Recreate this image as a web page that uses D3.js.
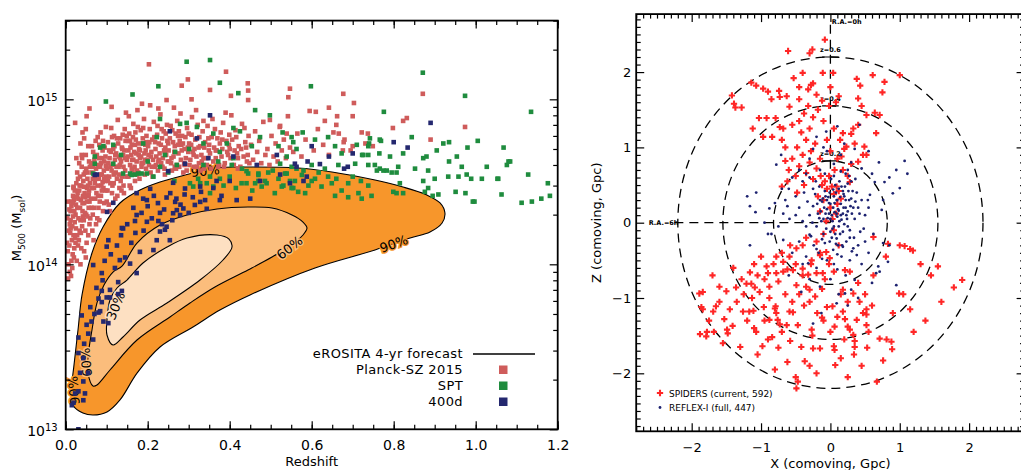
<!DOCTYPE html>
<html><head><meta charset="utf-8">
<script src="https://cdn.jsdelivr.net/npm/d3@7"></script>
<style>
body{margin:0;background:#fff;}
svg{display:block;font-family:"DejaVu Sans",sans-serif;}
</style></head><body>
<svg id="fig" width="1021" height="470"></svg>
<script>
// ---------- left panel: redshift, M500 in units of 1e14 Msol (flat z,M pairs)
var planck = [
0.005,1.2,0.008,1.6,0.010,0.9,0.012,2.1,0.004,1.9,0.015,1.4,0.018,2.6,0.020,1.1,0.022,1.8,0.025,2.3,0.028,1.5,0.006,2.4,0.009,1.3,0.013,0.85,0.016,1.7,0.019,2.9,0.021,1.25,0.024,2.0,0.027,1.05,0.029,2.7,
0.007,1.0,0.011,1.55,0.014,2.25,0.017,1.15,0.023,1.45,0.026,3.1,0.003,1.35,0.012,1.85,0.020,2.45,0.016,0.95,0.009,2.15,0.025,1.65,0.018,1.95,0.030,1.3,0.006,0.82,0.022,2.8,0.014,1.05,0.028,2.2,0.010,1.75,0.019,1.5,
0.013,2.4,0.019,2.95,0.023,7.2,0.039,4.6,0.055,5.2,0.058,8.8,0.051,7.9,0.028,3.6,0.033,4.1,0.045,5.8,0.026,4.4,0.041,6.3,0.036,5.4,0.049,6.6,0.030,3.3,
0.032,1.4,0.035,2.2,0.038,3.0,0.040,1.7,0.042,2.6,0.045,1.2,0.047,3.6,0.050,2.0,0.052,2.9,0.055,1.5,0.057,4.2,0.058,2.4,0.033,2.8,0.036,1.0,0.039,3.9,0.041,2.1,0.044,1.85,0.046,2.7,0.049,4.6,0.051,1.35,
0.053,3.3,0.056,2.2,0.059,3.1,0.034,1.6,0.037,2.45,0.043,3.2,0.048,1.6,0.054,2.6,0.060,1.9,0.031,2.5,0.035,3.4,0.040,4.4,0.045,2.35,0.050,3.8,0.055,3.0,0.058,1.75,0.038,1.25,0.042,1.95,0.047,2.05,0.052,2.4,0.057,2.8,0.044,2.95,0.036,1.85,0.049,1.1,0.053,1.95,
0.061,2.5,0.063,3.6,0.065,1.6,0.067,4.8,0.069,2.2,0.071,3.1,0.073,5.6,0.075,2.7,0.077,1.9,0.079,4.0,0.081,3.3,0.083,2.4,0.085,6.3,0.087,3.0,0.089,4.4,0.091,2.1,0.093,3.7,0.095,5.1,0.097,2.8,0.099,3.4,
0.062,4.1,0.064,2.9,0.066,3.3,0.068,1.4,0.070,4.3,0.072,2.5,0.074,3.8,0.076,4.6,0.078,3.0,0.080,2.2,0.082,5.3,0.084,3.9,0.086,2.6,0.088,3.5,0.090,4.9,0.092,2.9,0.094,4.2,0.096,3.2,0.098,6.8,0.100,2.4,
0.066,2.0,0.074,1.75,0.082,1.85,0.090,3.15,0.070,3.5,0.078,5.9,0.086,4.1,0.094,2.35,0.098,3.95,0.064,5.2,
0.101,3.8,0.103,5.5,0.105,2.3,0.107,4.4,0.109,3.1,0.111,6.7,0.113,2.7,0.115,4.0,0.117,3.5,0.119,5.2,0.121,2.5,0.123,4.7,0.125,3.3,0.127,7.5,0.129,3.9,0.131,2.9,0.133,5.8,0.135,4.2,0.137,3.4,0.139,6.1,
0.141,3.0,0.143,4.9,0.145,3.7,0.147,8.3,0.149,4.3,0.102,2.8,0.106,3.4,0.110,4.8,0.114,3.0,0.118,6.0,0.122,3.6,0.126,2.6,0.130,4.5,0.134,3.2,0.138,5.0,0.142,2.7,0.146,5.6,0.104,4.1,0.108,2.1,0.112,3.7,
0.116,5.0,0.120,4.3,0.124,3.9,0.128,5.4,0.132,4.0,0.136,2.8,0.140,4.6,0.144,6.6,0.148,3.4,0.112,9.0,
0.151,4.5,0.153,3.4,0.155,6.2,0.157,4.0,0.159,2.9,0.161,5.3,0.163,3.7,0.165,7.1,0.167,4.8,0.169,3.2,0.171,5.7,0.173,4.2,0.175,8.6,0.177,3.6,0.179,5.0,0.181,4.4,0.183,6.5,0.185,3.9,0.187,5.4,0.189,4.1,
0.191,7.6,0.193,3.5,0.195,4.9,0.197,6.0,0.199,4.3,0.152,5.6,0.156,3.0,0.160,4.6,0.164,5.9,0.168,3.9,0.172,4.7,0.176,6.8,0.180,3.3,0.184,4.5,0.188,5.8,0.192,4.7,0.196,3.8,0.154,7.9,0.162,4.3,0.170,6.3,
0.178,4.6,0.186,9.4,0.194,5.3,0.158,5.1,0.174,3.7,
0.201,5.2,0.203,4.0,0.205,6.6,0.207,3.6,0.209,4.8,0.211,5.7,0.213,4.3,0.215,7.3,0.217,3.9,0.219,5.0,0.221,4.5,0.223,6.1,0.225,3.7,0.227,5.4,0.229,4.7,0.231,8.1,0.233,4.1,0.235,5.8,0.237,4.4,0.239,6.4,
0.241,3.8,0.243,5.1,0.245,4.6,0.247,7.0,0.249,4.2,0.204,5.5,0.208,4.5,0.212,3.4,0.216,5.9,0.220,4.0,0.224,6.9,0.228,4.3,0.232,5.3,0.236,3.9,0.240,4.9,0.244,6.2,0.248,5.6,0.206,9.2,0.226,8.8,0.242,3.5,
0.251,4.9,0.254,5.8,0.257,4.1,0.260,6.5,0.263,4.5,0.266,5.2,0.269,3.8,0.272,7.4,0.275,4.7,0.278,5.6,0.281,4.3,0.284,6.0,0.287,3.6,0.290,5.0,0.293,4.4,0.296,6.7,0.299,4.8,0.253,4.2,0.256,6.9,0.259,3.7,
0.262,5.5,0.265,4.8,0.268,6.2,0.271,4.0,0.274,5.3,0.277,3.9,0.280,8.2,0.283,4.9,0.286,5.4,0.289,4.1,0.292,5.9,0.295,3.7,0.298,5.1,0.264,8.9,0.276,6.4,
0.301,5.4,0.304,4.3,0.307,6.1,0.310,4.8,0.313,3.9,0.316,5.7,0.319,4.5,0.322,7.0,0.325,4.1,0.328,5.2,0.331,4.6,0.334,6.4,0.337,3.8,0.340,5.5,0.343,4.4,0.346,6.9,0.349,4.9,0.302,4.0,0.308,7.8,0.314,5.0,
0.320,3.9,0.326,5.9,0.332,4.2,0.338,5.1,0.344,4.0,0.348,5.8,0.318,8.6,0.336,7.4,0.306,5.3,0.329,3.7,
0.352,4.7,0.356,5.9,0.360,4.2,0.364,6.6,0.368,4.9,0.372,3.9,0.376,5.4,0.380,4.5,0.384,7.2,0.388,4.1,0.392,5.6,0.396,4.6,0.399,6.1,0.354,3.8,0.358,7.6,0.362,5.1,0.366,4.4,0.370,5.8,0.374,4.0,0.378,6.3,
0.382,5.0,0.386,3.9,0.390,8.3,0.394,4.8,0.398,5.3,
0.402,4.4,0.406,5.7,0.410,4.0,0.414,6.5,0.418,4.7,0.422,5.2,0.426,3.9,0.430,7.1,0.434,4.5,0.438,5.5,0.442,4.2,0.446,6.0,0.404,8.0,0.412,4.9,0.420,3.8,0.428,5.0,0.436,6.7,0.444,4.6,0.416,5.9,0.448,4.1,
0.452,5.3,0.457,4.3,0.462,6.4,0.467,4.8,0.472,5.6,0.477,4.1,0.482,7.3,0.487,4.6,0.492,5.0,0.497,4.0,0.502,6.0,0.507,4.5,0.512,5.4,0.517,4.2,0.522,6.8,0.527,4.9,0.532,5.7,0.537,4.4,0.542,7.9,0.547,5.1,
0.555,4.8,0.565,6.2,0.575,4.5,0.585,5.7,0.595,8.5,0.605,4.9,0.615,6.6,0.628,5.3,0.642,4.6,0.660,7.0,0.678,5.5,0.695,4.9,
0.547,11.6,0.543,10.3,0.677,10.8,0.703,9.5,0.700,7.9,0.610,8.4,0.642,8.9,0.662,7.9,0.632,7.4,0.737,6.2,0.722,6.3,0.653,6.3,0.666,6.2,0.680,5.7,0.700,5.2,0.749,5.2,0.731,5.4,0.676,4.9,0.798,6.7,0.823,7.4,
0.832,7.7,0.871,10.8,0.890,5.7,0.974,6.8,
0.203,16.3,0.391,14.7,0.298,13.2,0.283,12.1,0.352,11.4,0.444,12.5,0.445,11.3,0.403,10.5,0.307,10.0,0.246,9.9,0.445,9.9,0.498,7.5,0.523,6.9,0.539,6.2,
0.012,1.65,0.017,2.35,0.021,2.1,0.024,1.35,0.027,2.55,0.031,1.9,0.034,3.0,0.037,1.55,0.041,2.35,0.044,3.5,0.048,2.55,0.052,3.6,0.056,2.65,0.059,3.9,0.063,2.2,0.066,3.9,0.069,2.9,0.072,4.5,0.075,3.3,0.079,2.6,
0.082,4.4,0.085,3.5,0.088,2.8,0.091,5.6,0.094,3.3,0.097,4.5,0.103,3.2,0.106,4.9,0.109,3.9,0.113,5.9,0.117,3.1,0.121,4.6,0.125,5.8,0.129,3.5,0.133,4.4,0.137,5.1,0.141,3.9,0.145,4.4,0.149,6.0,0.153,4.9,
0.157,5.6,0.161,3.8,0.165,4.3,0.169,5.3,0.173,3.5,0.177,5.4,0.181,4.9,0.185,4.1,0.189,6.7,0.193,4.3,0.197,5.5,0.202,4.6,0.210,3.9,0.218,5.5,0.226,4.2,0.234,6.6,0.242,4.8,0.250,5.4,0.258,4.4,0.266,3.9,
0.274,6.0,0.282,5.3,0.290,4.0,0.300,6.2,0.312,4.6,0.324,5.1,0.336,4.4,0.350,5.3,0.366,4.9,0.382,5.7,0.400,5.0,0.420,4.4,0.440,5.1
];
var spt = [
0.098,9.7,0.163,10.7,0.226,12.0,0.295,16.9,0.352,17.3,0.376,12.6,0.421,10.9,0.071,4.5,0.084,5.1,0.116,5.3,0.157,3.55,0.169,3.5,0.177,3.55,0.198,3.55,0.230,7.6,0.222,5.9,0.189,5.4,0.279,7.1,0.295,7.2,0.320,6.8,
0.267,4.8,0.336,5.4,0.360,6.2,0.393,5.4,0.409,6.7,0.425,6.4,0.454,5.2,0.474,5.9,0.498,8.0,0.519,5.2,0.555,5.5,0.539,4.5,0.563,5.0,0.462,8.6,0.376,4.8,0.301,5.0,0.242,4.6,0.271,4.0,0.336,4.0,0.409,4.4,
0.441,3.67,0.470,3.55,0.523,4.07,0.539,3.55,0.563,3.8,0.311,2.96,0.328,3.1,0.352,3.4,0.376,3.3,0.400,3.4,0.441,3.1,0.470,3.2,0.490,3.1,0.531,3.0,0.547,3.2,0.555,2.9,0.071,4.07,0.092,5.2,0.116,4.07,0.140,3.55,
0.372,4.2,0.405,4.0,0.445,3.55,0.470,3.48,0.494,3.6,0.519,3.3,0.535,3.55,0.559,3.2,0.576,3.48,0.592,3.0,0.608,3.3,0.624,2.96,0.649,3.1,0.673,2.8,0.689,3.1,0.714,2.7,0.738,3.0,0.746,2.6,0.478,2.96,0.462,3.1,
0.429,3.1,0.527,2.96,0.551,2.9,0.567,2.75,0.584,2.7,0.551,3.9,0.600,4.0,0.632,3.8,0.665,4.0,0.706,4.07,0.738,4.0,0.657,2.6,0.689,2.55,0.722,2.5,0.510,2.7,0.486,3.2,0.161,3.48,0.185,3.55,0.214,3.4,0.230,3.9,
0.303,3.1,0.323,3.3,0.344,3.1,0.360,2.96,0.067,3.55,
0.529,6.3,0.551,5.9,0.578,6.3,0.608,5.7,0.640,5.9,0.657,5.2,0.673,4.7,0.723,4.6,0.740,5.4,0.766,5.7,0.811,3.9,0.823,4.7,0.880,4.5,0.905,4.9,0.921,5.4,
0.871,14.5,0.974,10.5,0.776,8.4,1.135,8.4,0.598,12.0,0.844,5.9,0.935,5.5,0.980,5.1,1.005,5.6,1.068,5.1,1.080,4.2,1.128,3.5,1.176,3.1,1.027,3.9,1.055,3.3,1.063,2.65,1.112,2.36,1.137,2.4,1.160,2.5,1.181,2.6,
0.993,2.4,0.997,2.4,0.975,2.7,0.951,2.75,0.933,3.4,0.958,3.4,0.978,3.5,0.989,3.3,1.015,3.3,1.053,3.3,0.909,2.65,0.895,2.6,0.884,2.9,0.900,3.3,0.876,2.75,0.872,3.2,0.852,3.8,0.872,4.4,0.884,3.7,0.935,4.2,
0.954,4.5,0.966,3.9,1.076,4.0,1.084,4.2,0.795,3.6,0.807,3.6,0.815,3.1,0.799,2.75,0.807,2.7,0.823,2.7,0.791,4.5,0.765,4.7,0.769,5.6,0.742,5.8,0.738,5.2,0.726,4.6,0.738,4.6,0.754,4.0,0.766,3.8,0.775,3.7,
0.759,3.7,0.783,3.7,0.710,5.3,0.700,3.4,0.720,3.2,0.617,3.6,0.640,3.4,0.660,3.3,0.580,3.7,0.600,3.2,0.430,3.8,0.415,2.9,0.455,2.8,0.505,3.7,0.385,3.0,0.352,2.7,0.265,3.2,0.250,3.6,0.200,4.2,0.135,4.6
];
var d400 = [
0.071,3.48,0.206,2.87,0.246,2.54,0.267,2.39,0.315,2.29,0.189,2.50,0.140,1.65,0.104,1.40,0.173,1.99,0.230,2.05,0.271,2.13,0.287,2.18,0.198,1.81,0.222,1.40,0.181,1.19,0.157,1.01,0.132,1.06,0.067,0.99,0.088,0.885,0.173,0.885,
0.128,0.78,0.108,0.70,0.100,1.28,0.254,1.40,0.214,1.22,0.328,2.39,0.344,2.17,0.246,1.69,0.279,1.99,0.230,1.58,
0.076,3.5,0.116,2.36,0.101,2.08,0.137,1.66,0.169,1.83,0.173,2.7,0.198,2.45,0.226,1.83,0.242,1.62,0.262,2.04,0.291,4.07,0.320,5.8,0.352,8.0,0.348,4.4,0.409,4.5,0.466,4.0,0.474,3.2,0.400,3.2,0.368,3.2,0.328,2.96,
0.376,2.45,0.417,2.45,0.450,2.5,0.515,4.6,0.559,4.07,0.254,6.4,0.250,3.67,0.262,3.12,0.291,2.88,
0.890,7.2,0.800,5.5,0.834,5.1,0.600,5.2,0.563,3.9,0.590,4.2,0.620,4.05,0.642,4.5,0.700,4.7,0.688,3.9,0.679,3.8,0.580,3.2,0.547,3.1,0.588,3.4,0.523,3.5,
0.088,0.69,0.100,0.63,0.108,0.63,0.128,0.66,0.137,0.69,0.088,0.59,0.084,0.52,0.080,0.51,0.092,0.45,0.104,0.44,0.039,0.49,0.051,0.43,0.063,0.45,0.067,0.35,0.031,0.36,0.031,0.29,0.043,0.27,0.035,0.22,0.055,0.22,0.043,0.195,
0.047,0.165,0.031,0.17,0.023,0.165,0.043,0.15,0.019,0.145,0.015,0.14,0.031,0.10,
0.110,1.15,0.120,0.95,0.125,1.3,0.135,1.5,0.145,1.1,0.150,1.75,0.160,1.35,0.165,2.2,0.170,1.55,0.185,2.05,0.190,1.6,0.200,2.25,0.210,1.9,0.215,2.6,0.225,2.35,0.235,1.75,0.240,2.15,0.255,2.7,0.260,1.85,0.270,2.5,
0.280,2.3,0.290,2.65,0.300,2.05,0.310,2.55,0.330,2.75,0.340,2.45,0.360,2.9,0.380,2.6,0.090,0.8,0.095,1.05,0.075,0.72,0.060,0.55,0.055,0.38,0.070,0.5,0.080,0.62,0.045,0.33
];
// eROSITA forecast contours (z, M500/1e14), outer to inner
var contour90 = [
[0.0666,0.122],[0.042,0.1256],[0.0178,0.140],[0.0141,0.173],[0.0202,0.245],[0.030,0.400],[0.0398,0.652],[0.0641,1.171],[0.091,1.683],[0.1324,2.353],[0.1812,2.82],[0.230,3.15],[0.291,3.475],[0.364,3.834],[0.4495,3.89],
[0.5666,3.834],[0.6495,3.626],[0.7544,3.24],[0.8227,2.94],[0.881,2.63],[0.913,2.353],[0.925,2.046],[0.918,1.78],[0.8885,1.57],[0.84,1.443],[0.7544,1.221],[0.608,0.950],[0.4495,0.652],[0.376,0.528],[0.3105,0.417],
[0.230,0.3155],[0.1739,0.219],[0.1324,0.1506],[0.1007,0.1273]];
var contour60 = [
[0.0666,0.183],[0.0544,0.219],[0.0544,0.274],[0.0641,0.400],[0.0763,0.583],[0.0934,0.749],[0.1154,0.898],[0.1373,0.976],[0.1739,1.346],[0.230,1.730],[0.2959,1.99],[0.369,2.164],[0.4446,2.224],[0.5032,2.193],[0.552,1.99],
[0.5788,1.804],[0.5885,1.66],[0.5788,1.505],[0.547,1.291],[0.5032,1.107],[0.4446,0.924],[0.364,0.7285],[0.3032,0.583],[0.2544,0.4794],[0.1739,0.3477],[0.108,0.2288],[0.0763,0.1856]];
var contour30 = [
[0.108,0.6075],[0.1251,0.7186],[0.1495,0.803],[0.1885,1.018],[0.2471,1.273],[0.2959,1.443],[0.369,1.505],[0.3983,1.423],[0.4056,1.273],[0.3837,1.062],[0.3276,0.803],[0.2471,0.583],[0.1812,0.4597],[0.1398,0.3625],
[0.1154,0.3243],[0.1007,0.3728],[0.1007,0.4597]];
var levelNames = ["90%","60%","30%"];
var bandColors = ["#f7962b","#fbbd7c","#fde0c2"];
var sampleNames = ["Planck-SZ 2015","SPT","400d"];
var sampleColors = ["#cf5c5b","#1f8c3e","#24286f"];

// ---------- right panel: comoving X, Z in Gpc (flat X,Z pairs)
var spiders = [
-0.08,2.43,-0.61,2.28,-0.26,2.30,-0.30,2.25,-0.53,1.92,-0.40,1.99,-0.11,1.99,0.04,1.99,0.38,1.91,0.61,1.96,0.78,1.87,1.00,1.96,0.43,1.82,0.75,1.73,-1.14,1.86,-1.07,1.82,-0.97,1.78,-0.90,1.74,-0.85,1.64,-0.74,1.75,
-0.73,1.67,-0.63,1.68,-1.42,1.69,-1.39,1.58,-1.28,1.53,-1.37,1.53,-1.03,1.39,-0.92,1.39,-0.79,1.39,-1.12,1.25,-0.97,1.14,-0.84,1.14,-0.73,1.27,-0.68,1.25,-0.59,1.54,-0.45,1.64,-0.32,1.77,-0.28,1.83,
0.18,1.19,0.33,1.25,0.40,1.30,0.52,1.43,0.64,1.46,0.71,1.43,0.66,1.19,0.49,1.01,0.52,0.90,0.47,0.90,0.40,0.81,0.23,1.01,0.16,0.88,0.18,0.70,0.28,0.54,0.09,0.48,
-0.10,0.30,-0.05,0.45,0.00,0.20,0.05,0.38,0.10,0.25,-0.15,0.15,-0.08,0.55,0.03,0.05,0.12,0.42,-0.18,0.35,-0.02,0.62,0.08,0.12,-0.12,0.50,0.15,0.32,-0.06,0.02,0.02,0.48,-0.14,0.62,0.06,0.70,-0.20,0.72,-0.25,0.58,
-0.30,0.80,-0.35,0.66,-0.40,0.90,-0.28,0.95,-0.45,0.75,-0.50,0.62,-0.55,0.85,-0.60,0.70,-0.15,0.85,-0.22,1.05,-0.35,1.10,-0.42,1.20,-0.30,1.25,-0.25,1.40,-0.18,1.50,-0.10,1.35,-0.05,1.10,0.00,0.95,0.05,1.25,-0.12,1.62,
-0.20,1.70,-0.32,1.55,-0.38,1.45,-0.45,1.35,-0.55,1.30,-0.65,1.00,-0.70,1.10,-0.48,1.00,-0.62,0.55,-0.70,0.48,0.10,0.85,0.14,1.10,0.20,0.98,0.25,0.62,0.30,0.78,0.00,1.80,-0.02,1.55,0.08,1.60,0.12,1.68,0.40,1.65,
0.45,1.55,-0.25,1.85,-0.45,1.80,-0.38,0.50,-0.48,0.40,-0.65,0.82,0.35,1.05,0.30,1.18,
-1.89,-0.94,-1.84,-0.92,-1.86,-1.12,-1.84,-1.15,-1.88,-1.48,-1.78,-1.45,-1.79,-1.51,-1.69,-1.18,-1.68,-1.45,-1.65,-1.11,-1.60,-1.05,-1.50,-0.91,-1.53,-1.28,-1.49,-1.42,-1.48,-1.47,-1.41,-1.37,-1.36,-0.86,-1.28,-0.75,-1.21,-0.81,-1.16,-0.66,
-1.14,-0.81,-1.09,-0.86,-1.13,-1.00,-1.02,-0.92,-1.26,-1.18,-1.17,-1.18,-1.11,-1.17,-0.96,-1.12,-0.88,-1.00,-0.80,-1.14,-0.78,-1.20,-0.79,-1.11,-1.07,-1.45,-0.98,-1.64,-0.84,-1.52,-0.88,-1.29,-0.76,-1.29,-0.73,-1.35,-0.63,-1.36,-0.75,-1.66,
-0.58,-1.57,-0.59,-1.18,-0.54,-1.19,-0.47,-1.36,-0.42,-1.65,-0.37,-1.84,-0.47,-2.11,-0.49,-2.20,-0.26,-1.50,-0.25,-1.67,-0.27,-1.42,-0.12,-1.26,-0.19,-1.20,-0.15,-1.67,-0.05,-1.12,0.03,-1.11,0.06,-1.38,0.05,-1.64,0.07,-1.89,0.06,-1.69,
0.18,-1.18,0.21,-1.28,0.25,-1.38,0.28,-1.42,0.33,-1.49,0.35,-1.57,0.35,-1.65,0.34,-1.75,0.38,-1.29,0.42,-1.05,0.52,-1.15,0.52,-1.22,0.47,-1.20,0.52,-1.36,0.53,-1.66,0.71,-1.54,0.81,-1.55,0.88,-1.58,0.89,-1.68,0.76,-1.83,
0.67,-2.11,0.99,-0.94,1.37,-1.30,1.78,-0.86,1.90,-0.76,1.55,-0.58,1.00,-0.30,1.07,-0.31,1.15,-0.35,1.19,-0.37,0.62,-0.19,0.83,-0.28,
-0.59,-0.45,-0.49,-0.34,-0.40,-0.30,-0.78,-0.45,-0.68,-0.52,-0.92,-0.58,-0.90,-0.67,-0.78,-0.67,-0.68,-0.65,-0.54,-0.63,-0.40,-0.61,-0.27,-0.50,-0.15,-0.43,-0.06,-0.39,-0.01,-0.47,-0.32,-0.69,-0.20,-0.67,-0.49,-0.83,-0.35,-0.85,-0.30,-0.89,
-0.11,-0.67,0.21,-0.63,0.28,-0.65,0.33,-0.94,0.18,-0.89,
-0.10,-0.15,0.05,-0.10,-0.20,-0.25,-0.35,-0.20,-0.50,-0.55,-0.62,-0.62,-0.70,-0.40,-0.82,-0.55,-0.95,-0.75,-1.05,-0.70,-0.88,-0.85,-0.75,-0.78,-0.65,-0.95,-0.55,-1.05,-0.45,-0.95,-0.38,-1.10,-0.30,-1.05,-0.22,-0.98,-0.12,-0.88,-1.25,-0.95,
-1.35,-1.05,-1.45,-1.15,-1.20,-1.30,-1.10,-1.40,-0.95,-1.30,-0.90,-1.55,-0.70,-1.45,-0.62,-1.85,-0.30,-1.90,-0.20,-2.00,0.15,-1.80,0.20,-1.55,0.45,-1.90,0.55,-1.45,0.00,-1.45,-0.10,-1.30,0.10,-1.25,0.25,-1.05,0.40,-0.80,0.50,-0.95,
0.60,-1.10,0.62,-0.70,0.05,-0.65,-0.08,-0.75,0.15,-0.95,-0.40,-0.70,-0.28,-0.55,-0.15,-0.40,-0.02,-0.55,0.12,-0.30,-1.60,-0.85,-1.75,-1.30,-1.55,-1.60,-1.30,-1.65,-1.05,-1.75,-0.80,-1.95,-0.50,-2.05,0.25,-2.05,1.20,-1.45,1.05,-0.95,
1.15,-1.15,0.90,-1.20,1.45,-0.70,1.30,-0.55,1.60,-1.05,0.80,-0.45,-1.40,-0.60,-1.70,-0.70,-1.00,-0.45,-1.10,-0.55,-0.58,-0.30
];
var reflex = [
-0.30,0.10,-0.25,0.22,-0.20,-0.05,-0.15,0.30,-0.10,0.05,-0.05,0.18,0.00,-0.12,0.05,0.35,0.10,0.08,0.15,0.25,0.20,-0.02,0.25,0.15,0.30,0.32,0.35,0.05,-0.28,-0.18,-0.22,0.38,-0.18,0.12,-0.12,-0.22,-0.08,0.42,-0.02,0.26,
0.03,0.02,0.08,-0.28,0.12,0.45,0.18,0.12,0.22,0.30,0.28,-0.10,0.33,0.20,0.38,0.40,-0.33,0.28,-0.26,0.00,-0.19,0.25,-0.14,0.15,-0.06,-0.08,-0.01,0.40,0.04,0.20,0.09,0.30,0.14,-0.15,0.19,0.38,0.24,0.05,0.29,0.22,
0.34,-0.20,0.02,0.10,0.06,0.14,0.11,0.18,0.16,0.04,-0.04,0.06,-0.09,0.20,0.07,0.50,0.13,0.55,-0.11,0.32,0.21,0.48,0.26,0.42,0.01,0.58,-0.16,0.48,0.17,-0.30,0.23,-0.25,0.31,-0.38,-0.24,-0.30,-0.17,-0.40,0.10,-0.42,
0.27,0.62,0.36,0.58,-0.21,0.55,0.42,0.12,0.45,0.30,0.48,-0.08,-0.38,0.40,-0.40,0.02,-0.45,0.20,0.05,-0.05,0.00,0.25,0.09,0.12,0.14,0.34,0.19,0.20,0.23,0.10,-0.03,0.34,-0.07,0.12,-0.13,0.02,0.31,0.12,0.36,0.28,
0.12,-0.05,0.18,0.42,0.04,0.44,-0.10,-0.15,0.02,-0.20,0.25,0.52,
-0.05,0.30,0.08,0.40,0.15,0.10,0.22,0.20,-0.12,0.28,0.03,-0.08,0.10,0.30,0.16,0.48,0.06,0.26,-0.02,0.12,0.13,0.02,0.20,0.35,-0.16,0.06,0.27,0.30,0.00,0.05,0.07,-0.15,0.12,0.16,-0.07,0.35,0.25,-0.05,0.32,0.42,
-0.25,0.45,0.40,0.20,0.18,-0.12,0.05,0.62,-0.08,0.65,0.30,0.55,0.22,0.65,-0.30,0.60,0.40,-0.30,0.50,0.10,-0.35,-0.05,0.15,0.68,-0.50,0.10,0.55,0.20,
0.42,1.30,-0.20,1.14,-0.06,1.21,-0.71,0.90,-0.78,0.77,1.07,0.82,1.11,0.65,1.00,0.46,0.90,0.39,0.78,0.54,0.64,0.54,0.57,0.37,0.54,0.30,0.74,0.17,0.76,0.30,-0.05,0.95,0.15,0.90,0.30,0.80,-0.30,0.85,-0.45,0.70,
-0.55,0.60,0.45,0.72,0.60,0.65,0.05,0.78,-0.15,0.70,-0.40,0.55,-0.60,0.45,-0.65,0.30,-0.50,0.35,0.70,0.80,0.85,0.60,0.95,0.70,0.20,1.05,-0.10,1.00,0.35,0.98,-0.25,0.98,0.10,1.28,0.55,0.95,-0.35,0.65,0.25,0.70,
-1.16,0.22,-1.08,0.14,-1.07,0.40,-0.88,0.19,-0.80,0.26,-0.68,0.12,-0.59,0.05,-0.95,0.00,-1.20,0.35,-0.75,-0.05,-0.90,-0.15,-0.70,0.45,-0.62,0.22,
-0.25,-1.34,-0.13,-1.20,0.09,-1.07,0.95,-0.83,-1.16,-0.30,0.69,-0.58,0.71,-0.65,0.66,-0.67,0.83,-0.52,0.76,-0.27,0.21,-0.94,0.30,-0.89,0.35,-0.76,-0.42,-0.92,-0.40,-0.55,-0.32,-0.54,-0.30,-0.16,-0.01,-0.25,0.09,-0.21,0.18,-0.32,
0.16,-0.45,0.28,-0.50,0.38,-0.43,0.33,-0.34,-0.85,-0.15,-0.68,-0.23,-0.08,-0.27,0.04,-0.36,0.11,-0.30,-0.20,-0.60,-0.05,-0.50,0.10,-0.62,0.22,-0.70,0.45,-0.55,0.55,-0.40,0.50,-0.25,0.62,-0.15,-0.55,-0.40,-0.45,-0.25,-0.15,-0.85,
0.00,-0.75,0.12,-0.95,0.40,-1.00,0.25,-1.10,-0.30,-0.75,-0.60,-0.70,0.60,-0.80,0.85,-0.30,-0.20,-0.35,0.05,-0.55,0.28,-0.20,0.43,-0.12,-0.35,-0.45,-0.12,-0.48
];
var ringZ = ["z=0.2","z=0.4","z=0.6"];
var ringRadius = [0.82,1.55,2.2];   // comoving distance, Gpc
var legendRight = ["SPIDERS (current, 592)","REFLEX-I (full, 447)"];

function pairs(a){var out=[];for(var i=0;i<a.length;i+=2){out.push([a[i],a[i+1]]);}return out;}

var svg = d3.select("#fig");

//draws an IDL style box: inward ticks on all four sides, labels only bottom and left
function box(g, xs, ys, xMaj, xMin, yMaj, yMin, majLen, minLen, xPad, yPad, fs, fmt){
	var r = xs.range(), h = ys.range();
	var x0 = r[0], x1 = r[1], yb = h[0], yt = h[1];
	var fmtX = function(d){return d3.format(fmt)(d).replace("-","\u2212");};
	var b = g.append("g").attr("transform","translate(0,"+yb+")").call(d3.axisBottom(xs).tickValues(xMaj).tickSize(-majLen).tickPadding(xPad).tickFormat(fmtX));
	g.append("g").attr("transform","translate(0,"+yb+")").call(d3.axisBottom(xs).tickValues(xMin).tickSize(-minLen).tickFormat(""));
	g.append("g").attr("transform","translate(0,"+yt+")").call(d3.axisTop(xs).tickValues(xMaj).tickSize(-majLen).tickFormat(""));
	g.append("g").attr("transform","translate(0,"+yt+")").call(d3.axisTop(xs).tickValues(xMin).tickSize(-minLen).tickFormat(""));
	var l = g.append("g").attr("transform","translate("+x0+",0)").call(d3.axisLeft(ys).tickValues(yMaj).tickSize(-majLen).tickPadding(yPad).tickFormat(fmtX));
	g.append("g").attr("transform","translate("+x0+",0)").call(d3.axisLeft(ys).tickValues(yMin).tickSize(-minLen).tickFormat(""));
	g.append("g").attr("transform","translate("+x1+",0)").call(d3.axisRight(ys).tickValues(yMaj).tickSize(-majLen).tickFormat(""));
	g.append("g").attr("transform","translate("+x1+",0)").call(d3.axisRight(ys).tickValues(yMin).tickSize(-minLen).tickFormat(""));
	g.selectAll(".domain").remove();
	g.selectAll(".tick line").attr("stroke","#000").attr("stroke-width",1.2);
	g.selectAll(".tick text").attr("font-size",fs).attr("font-family","DejaVu Sans").attr("fill","#000");
	g.append("rect").attr("x",x0).attr("y",yt).attr("width",x1-x0).attr("height",yb-yt)
		.attr("fill","none").attr("stroke","#000").attr("stroke-width",1.8);
	return {bottom:b, left:l};
}

// ================= LEFT PANEL =================
var x = d3.scaleLinear().domain([0,1.2]).range([65.7,557.7]);
var y = d3.scaleLog().domain([0.1,30]).range([429.3,20.6]);

svg.append("clipPath").attr("id","clipL").append("rect")
	.attr("x",x(0)).attr("y",y(30)).attr("width",x(1.2)-x(0)).attr("height",y(0.1)-y(30));
var plotL = svg.append("g").attr("clip-path","url(#clipL)");

var cline = d3.line().x(function(d){return x(d[0])}).y(function(d){return y(d[1])}).curve(d3.curveCatmullRomClosed.alpha(0.5));
[contour90,contour60,contour30].forEach(function(c,i){
	plotL.append("path").attr("d",cline(c)).attr("fill",bandColors[i]).attr("stroke","#000").attr("stroke-width",1.1);
});

//contour labels, placed along the lines
var clabels = [
	{t:levelNames[0], z:0.34, m:3.68, a:-6, bg:bandColors[0]},
	{t:levelNames[0], z:0.80, m:1.33, a:-20, bg:bandColors[0]},
	{t:levelNames[1], z:0.546, m:1.26, a:-38, bg:bandColors[1]},
	{t:levelNames[2], z:0.122, m:0.56, a:-68, bg:bandColors[2]},
	{t:levelNames[1], z:0.050, m:0.255, a:-95, bg:bandColors[1]},
	{t:levelNames[0], z:0.020, m:0.172, a:-95, bg:bandColors[0]}
];
plotL.selectAll("text.clab").data(clabels).join("text").attr("class","clab")
	.attr("transform",function(d){return "translate("+x(d.z)+","+y(d.m)+") rotate("+d.a+")"})
	.attr("text-anchor","middle").attr("dy","0.35em").attr("font-size",13)
	.attr("stroke",function(d){return d.bg}).attr("stroke-width",3).attr("paint-order","stroke")
	.attr("fill","#000").text(function(d){return d.t});

[planck,spt,d400].forEach(function(s,i){
	plotL.selectAll("rect.s"+i).data(pairs(s)).join("rect").attr("class","s"+i)
		.attr("x",function(d){return x(d[0])-2.3}).attr("y",function(d){return y(d[1])-2.3})
		.attr("width",4.6).attr("height",4.6).attr("fill",sampleColors[i]);
});

var axL = box(svg.append("g"), x, y,
	d3.range(0,7).map(function(i){return i*0.2}), d3.range(0,25).map(function(i){return i*0.05}),
	[0.1,1,10], [0.2,0.3,0.4,0.5,0.6,0.7,0.8,0.9,2,3,4,5,6,7,8,9,20,30], 8, 4.5, 11, 8, 14, ".1f");
axL.left.selectAll(".tick text").text("10").each(function(d){
	d3.select(this).append("tspan").attr("dy","-0.55em").attr("font-size",10).text(Math.round(Math.log10(d))+14);
});
axL.left.selectAll(".tick text").attr("dy","0.45em");

svg.append("text").attr("x",x(0.6)).attr("y",466).attr("text-anchor","middle").attr("font-size",13).text("Redshift");
var ylab = svg.append("text").attr("transform","translate(21,228) rotate(-90)").attr("text-anchor","middle").attr("font-size",13);
ylab.append("tspan").text("M");
ylab.append("tspan").attr("dy",4).attr("font-size",9).text("500");
ylab.append("tspan").attr("dy",-4).text(" (M");
ylab.append("tspan").attr("dy",4).attr("font-size",9).text("sol");
ylab.append("tspan").attr("dy",-4).text(")");

//legend
var lg = svg.append("g").attr("font-size",13).attr("letter-spacing","0.4px");
lg.append("text").attr("x",463).attr("y",358).attr("text-anchor","end").text("eROSITA 4-yr forecast");
lg.append("line").attr("x1",473).attr("x2",535).attr("y1",354).attr("y2",354).attr("stroke","#000").attr("stroke-width",1.3);
sampleNames.forEach(function(n,i){
	lg.append("text").attr("x",463).attr("y",374+16*i).attr("text-anchor","end").text(n);
	lg.append("rect").attr("x",499).attr("y",365.5+16*i).attr("width",8.5).attr("height",8.5).attr("fill",sampleColors[i]);
});

// ================= RIGHT PANEL =================
var xr = d3.scaleLinear().domain([-2.8,2.8]).range([636.2,1024.6]);
var yr = d3.scaleLinear().domain([-2.77,2.77]).range([431.3,14.1]);

svg.append("clipPath").attr("id","clipR").append("rect")
	.attr("x",xr(-2.8)).attr("y",yr(2.77)).attr("width",xr(2.8)-xr(-2.8)).attr("height",yr(-2.77)-yr(2.77));
var plotR = svg.append("g").attr("clip-path","url(#clipR)");

ringRadius.forEach(function(r){
	plotR.append("ellipse").attr("cx",xr(0)).attr("cy",yr(0))
		.attr("rx",xr(r)-xr(0)).attr("ry",yr(0)-yr(r))
		.attr("fill","none").attr("stroke","#000").attr("stroke-width",1.3).attr("stroke-dasharray","9,6");
	plotR.append("line").attr("x1",xr(-0.12)).attr("x2",xr(0.12)).attr("y1",yr(r)).attr("y2",yr(r)).attr("stroke","#000").attr("stroke-width",1.2);
});
plotR.append("line").attr("x1",xr(0)).attr("x2",xr(0)).attr("y1",yr(2.63)).attr("y2",yr(0))
	.attr("stroke","#000").attr("stroke-width",1.3).attr("stroke-dasharray","9,6");
plotR.append("line").attr("x1",xr(-2.25)).attr("x2",xr(0)).attr("y1",yr(0)).attr("y2",yr(0))
	.attr("stroke","#000").attr("stroke-width",1.3).attr("stroke-dasharray","9,6");

var small = plotR.append("g").attr("font-size",6.5).attr("font-weight","bold");
ringRadius.forEach(function(r,i){
	small.append("text").attr("x",xr(0)).attr("y",yr(r+0.1)).attr("dy","0.35em").attr("text-anchor","middle").text(ringZ[i]);
});
small.append("text").attr("x",xr(0.02)).attr("y",yr(2.67)).attr("dy","0.35em").text("R.A.=0h");
small.append("text").attr("x",xr(-2.62)).attr("y",yr(0)).attr("dy","0.35em").text("R.A.=6h");

var cross = d3.symbol().type(d3.symbolCross).size(22);
plotR.selectAll("path.sp").data(pairs(spiders)).join("path").attr("class","sp")
	.attr("transform",function(d){return "translate("+xr(d[0])+","+yr(d[1])+")"})
	.attr("d",cross).attr("fill","#ff2626");
plotR.selectAll("circle.rf").data(pairs(reflex)).join("circle").attr("class","rf")
	.attr("cx",function(d){return xr(d[0])}).attr("cy",function(d){return yr(d[1])})
	.attr("r",1.4).attr("fill","#1d2270");

box(svg.append("g"), xr, yr,
	[-2,-1,0,1,2], d3.range(-28,29).filter(function(i){return i%10!=0}).map(function(i){return i/10}),
	[-2,-1,0,1,2], d3.range(-27,28).filter(function(i){return i%10!=0}).map(function(i){return i/10}), 8, 4.5, 11, 5, 13, "d");

svg.append("text").attr("x",xr(0)).attr("y",468).attr("text-anchor","middle").attr("font-size",13).text("X (comoving, Gpc)");
svg.append("text").attr("transform","translate(601,"+yr(0)+") rotate(-90)").attr("text-anchor","middle").attr("font-size",13).text("Z (comoving, Gpc)");

var lgr = svg.append("g").attr("font-size",9);
lgr.append("path").attr("transform","translate(660,393)").attr("d",cross).attr("fill","#ff2626");
lgr.append("circle").attr("cx",660).attr("cy",407.5).attr("r",1.4).attr("fill","#1d2270");
legendRight.forEach(function(t,i){
	lgr.append("text").attr("x",669).attr("y",396.5+14.5*i).text(t);
});
</script>
</body></html>
